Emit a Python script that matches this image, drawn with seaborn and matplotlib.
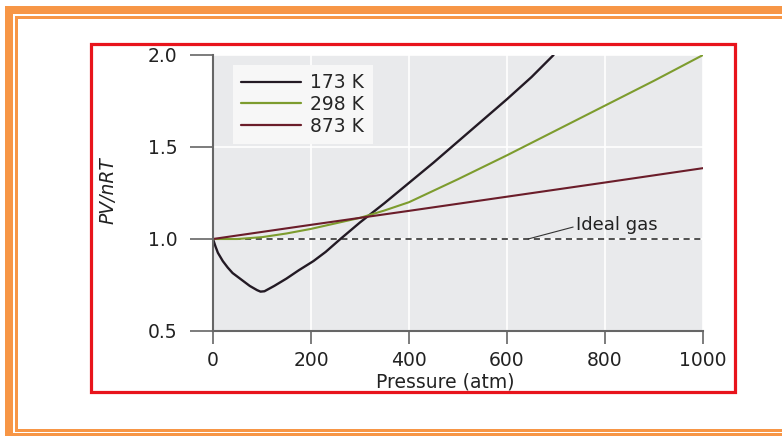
import numpy as np
import pandas as pd
import matplotlib
matplotlib.use("Agg")
import matplotlib.pyplot as plt
import seaborn as sns
from matplotlib.patches import Rectangle

# ---- data ----
p_173 = [0, 5, 10, 20, 30, 40, 55, 75, 90, 97, 105, 125, 150, 175, 205, 230, 260,
         300, 350, 400, 450, 500, 550, 600, 650, 695]
z_173 = [1.0, 0.96, 0.925, 0.88, 0.845, 0.815, 0.785, 0.745, 0.722, 0.714, 0.716,
         0.745, 0.785, 0.83, 0.88, 0.93, 1.0, 1.09, 1.195, 1.305, 1.415, 1.53,
         1.645, 1.76, 1.88, 2.0]
p_298 = [0, 50, 100, 150, 200, 250, 300, 350, 400, 500, 600, 700, 800, 900, 1000]
z_298 = [1.0, 1.0, 1.01, 1.03, 1.055, 1.085, 1.115, 1.155, 1.2, 1.325, 1.455, 1.59,
         1.725, 1.86, 2.0]
p_873 = [0, 200, 400, 600, 800, 1000]
z_873 = [1.0, 1.077, 1.153, 1.23, 1.307, 1.385]
series_labels = ["173 K", "298 K", "873 K"]
colors = ["#231a24", "#7d9c2e", "#6b1d2a"]
x_ticks = [0, 200, 400, 600, 800, 1000]
y_ticks = [0.5, 1.0, 1.5, 2.0]

df = pd.concat([
    pd.DataFrame({"P": p_173, "Z": z_173, "T": series_labels[0]}),
    pd.DataFrame({"P": p_298, "Z": z_298, "T": series_labels[1]}),
    pd.DataFrame({"P": p_873, "Z": z_873, "T": series_labels[2]}),
])

sns.set_style("darkgrid", {"axes.facecolor": "#e9eaec", "grid.color": "white"})
plt.rcParams["font.family"] = ["DejaVu Sans"]

W, H = 782, 436
fig = plt.figure(figsize=(W / 100, H / 100), dpi=100)
fig.patch.set_facecolor("white")

def fx(px):
    return px / W

def fy(py):
    return 1 - py / H

# orange frame
orange = "#f79646"
def frect(x0, y0, x1, y1, color, **kw):
    fig.patches.append(Rectangle((fx(x0), fy(y1)), fx(x1) - fx(x0), fy(y0) - fy(y1),
                                 transform=fig.transFigure, facecolor=color,
                                 edgecolor="none", **kw))
frect(5, 6, W, 14, orange)
frect(5, 6, 13, H, orange)
frect(15, 16, W, 19, orange)
frect(15, 16, 18, 432, orange)
frect(15, 429, W, 432, orange)
frect(13, 433, W, 436, orange)

# red box
fig.patches.append(Rectangle((fx(91), fy(392)), fx(735) - fx(91), fy(44) - fy(392),
                             transform=fig.transFigure, facecolor="none",
                             edgecolor="#e8141c", linewidth=2.3, zorder=5))

ax = fig.add_axes([fx(213), fy(331), fx(703) - fx(213), fy(55) - fy(331)])

sns.lineplot(data=df, x="P", y="Z", hue="T", palette=colors, ax=ax, sort=False,
             estimator=None, linewidth=1.5, legend=True)
ax.lines[0].set_linewidth(1.7)

ax.plot([0, 1000], [1.0, 1.0], ls=(0, (4, 3)), color="#222222", lw=1.1, zorder=1)
ax.plot([643, 735], [1.0, 1.065], color="#333333", lw=0.8)
ax.text(740, 1.075, "Ideal gas", fontsize=13, color="#222222", va="center", ha="left")

ax.set_xlim(0, 1000)
ax.set_ylim(0.5, 2.0)
ax.set_xticks(x_ticks)
ax.set_yticks(y_ticks)
ax.set_yticklabels([f"{v:.1f}" for v in y_ticks])
ax.grid(True, color="white", lw=1.2)
ax.set_axisbelow(True)

for s in ["top", "right"]:
    ax.spines[s].set_visible(False)
for s in ["left", "bottom"]:
    ax.spines[s].set_visible(True)
    ax.spines[s].set_color("#666666")
    ax.spines[s].set_linewidth(1.5)

ax.tick_params(axis="y", length=16.5, width=1.2, color="#666666", pad=9,
               labelsize=13.5, labelcolor="#222222", left=True)
ax.tick_params(axis="x", length=9.4, width=1.2, color="#666666", pad=5,
               labelsize=13.5, labelcolor="#222222", bottom=True)

ax.set_xlabel("Pressure (atm)", fontsize=13.5, color="#222222")
ax.set_ylabel("PV/nRT", fontsize=13.5, color="#222222", style="italic")
ax.xaxis.set_label_coords(0.473, -0.15)
ax.yaxis.set_label_coords(-0.195, 0.51)

leg = ax.legend(loc="upper left", bbox_to_anchor=(0.04, 0.965), frameon=True,
                fontsize=13.5, handlelength=3.2, labelspacing=0.15,
                handletextpad=0.5, borderpad=0.45, borderaxespad=0,
                fancybox=False, title=None)
leg.get_frame().set_facecolor("#f7f7f7")
leg.get_frame().set_edgecolor("none")
leg.get_frame().set_alpha(1)
for h, c in zip(leg.get_lines(), colors):
    h.set_color(c)
    h.set_linewidth(1.6)

fig.savefig("out.png", dpi=100)
